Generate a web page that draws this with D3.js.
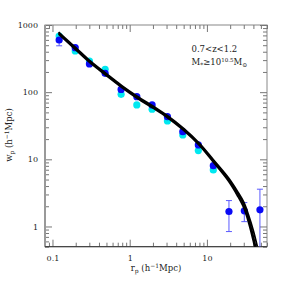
<!DOCTYPE html>
<html>
<head>
<meta charset="utf-8">
<script src="https://cdn.jsdelivr.net/npm/d3@7.9.0/dist/d3.min.js"></script>
<style>
  body { margin: 0; background: #fff; }
  text { font-family: "DejaVu Serif", serif; fill: #222; }
</style>
</head>
<body>
<svg id="chart" width="291" height="291"></svg>
<script>
// measured points (blue) and second sample (cyan)
const rp = [0.122, 0.197, 0.301, 0.481, 0.774, 1.236, 1.95, 3.08, 4.87, 7.74, 12.1, 19.3, 30.5, 48.6];
const wpBlue = [598, 459, 263, 191, 110, 85.7, 64.5, 43.2, 25.8, 16.4, 8.05, 1.67, 1.71, 1.77];
const errLo = [490, null, null, null, null, null, null, null, null, null, null, 0.84, 1.18, 0.4];
const errHi = [685, null, null, null, null, null, null, null, null, null, null, 2.43, 2.27, 3.59];
const rpCyan = [0.122, 0.197, 0.301, 0.481, 0.774, 1.236, 1.95, 3.08, 4.87, 7.74, 12.1];
const wpCyan = [685, 410, 291, 219, 93, 64.5, 55.7, 37.2, 23.1, 13.5, 6.95];

// model curves
const modelR = [0.12, 0.2, 0.3, 0.5, 0.8, 1.25, 2, 3, 5, 8, 12, 19, 25, 30, 35, 40, 45];
const modelA = [759, 444, 290, 182, 120, 84, 60, 44.3, 27.9, 16.7, 9.6, 5.05, 3.1, 2.1, 1.25, 0.7, 0.38];
const modelB = [730, 428, 280, 176, 116, 81, 58, 42.8, 27, 16.1, 9.2, 4.75, 2.85, 1.9, 1.1, 0.6, 0.32];
const modelC = [785, 460, 300, 188, 124, 87, 62, 45.8, 28.8, 17.3, 10, 5.3, 3.3, 2.3, 1.42, 0.86, 0.5];

const xMajor = [0.1, 1, 10];
const yMajor = [1, 10, 100, 1000];

const svg = d3.select("#chart");
const area = { left: 45, right: 267, top: 25, bottom: 246.7 };

const x = d3.scaleLog().domain([0.08, 60]).range([area.left, area.right]);
const y = d3.scaleLog().domain([0.5, 1000]).range([area.bottom, area.top]);

const minorOf = (scale) => {
  const [a, b] = scale.domain();
  const out = [];
  for (let e = Math.floor(Math.log10(a)); e <= Math.ceil(Math.log10(b)); e++) {
    for (let m = 2; m <= 9; m++) {
      const v = m * Math.pow(10, e);
      if (v >= a && v <= b) out.push(v);
    }
  }
  return out;
};

svg.append("clipPath").attr("id", "clip")
  .append("rect")
  .attr("x", area.left).attr("y", area.top)
  .attr("width", area.right - area.left)
  .attr("height", area.bottom - area.top);

// frame
svg.append("rect")
  .attr("x", area.left).attr("y", area.top)
  .attr("width", area.right - area.left)
  .attr("height", area.bottom - area.top)
  .attr("fill", "none")
  .attr("stroke", "#888")
  .attr("stroke-width", 1);

// ticks
const tickStyle = (g) => {
  g.select(".domain").remove();
  g.selectAll("line").attr("stroke", "#777");
};

svg.append("g").attr("transform", `translate(0,${area.bottom})`)
  .call(d3.axisBottom(x).tickValues(xMajor).tickSize(-7).tickPadding(9)
    .tickFormat(d3.format("~g")))
  .call(tickStyle)
  .call((g) => g.selectAll("text").attr("font-size", 8).attr("fill", "#222")
    .style("font-family", "DejaVu Serif"));
svg.append("g").attr("transform", `translate(0,${area.bottom})`)
  .call(d3.axisBottom(x).tickValues(minorOf(x)).tickSize(-4).tickFormat(""))
  .call(tickStyle);
svg.append("g").attr("transform", `translate(0,${area.top})`)
  .call(d3.axisTop(x).tickValues(xMajor).tickSize(-7).tickFormat(""))
  .call(tickStyle);
svg.append("g").attr("transform", `translate(0,${area.top})`)
  .call(d3.axisTop(x).tickValues(minorOf(x)).tickSize(-4).tickFormat(""))
  .call(tickStyle);

svg.append("g").attr("transform", `translate(${area.left},0)`)
  .call(d3.axisLeft(y).tickValues(yMajor).tickSize(-7).tickPadding(7)
    .tickFormat(d3.format("d")))
  .call(tickStyle)
  .call((g) => g.selectAll("text").attr("font-size", 8).attr("fill", "#222")
    .style("font-family", "DejaVu Serif"));
svg.append("g").attr("transform", `translate(${area.left},0)`)
  .call(d3.axisLeft(y).tickValues(minorOf(y)).tickSize(-4).tickFormat(""))
  .call(tickStyle);
svg.append("g").attr("transform", `translate(${area.right},0)`)
  .call(d3.axisRight(y).tickValues(yMajor).tickSize(-7).tickFormat(""))
  .call(tickStyle);
svg.append("g").attr("transform", `translate(${area.right},0)`)
  .call(d3.axisRight(y).tickValues(minorOf(y)).tickSize(-4).tickFormat(""))
  .call(tickStyle);

// left axis line is heavier and grey, bottom is dark
svg.append("line")
  .attr("x1", area.left).attr("x2", area.left)
  .attr("y1", area.top).attr("y2", area.bottom)
  .attr("stroke", "#999").attr("stroke-width", 2);
svg.append("line")
  .attr("x1", area.left).attr("x2", area.right)
  .attr("y1", area.bottom).attr("y2", area.bottom)
  .attr("stroke", "#333").attr("stroke-width", 1);

const plot = svg.append("g").attr("clip-path", "url(#clip)");

// error bars
const errData = rp.map((r, i) => ({ r, lo: errLo[i], hi: errHi[i] }))
  .filter((d) => d.lo !== null);
const eb = plot.append("g").attr("stroke", "#5a5aff").attr("stroke-width", 1);
eb.selectAll(".v").data(errData).join("line")
  .attr("x1", (d) => x(d.r)).attr("x2", (d) => x(d.r))
  .attr("y1", (d) => y(d.lo)).attr("y2", (d) => y(d.hi));
eb.selectAll(".cl").data(errData).join("line")
  .attr("x1", (d) => x(d.r) - 3).attr("x2", (d) => x(d.r) + 3)
  .attr("y1", (d) => y(d.lo)).attr("y2", (d) => y(d.lo));
eb.selectAll(".ch").data(errData).join("line")
  .attr("x1", (d) => x(d.r) - 3).attr("x2", (d) => x(d.r) + 3)
  .attr("y1", (d) => y(d.hi)).attr("y2", (d) => y(d.hi));

// points
plot.append("g").selectAll("circle")
  .data(rpCyan.map((r, i) => [r, wpCyan[i]]))
  .join("circle")
  .attr("cx", (d) => x(d[0])).attr("cy", (d) => y(d[1]))
  .attr("r", 3.6).attr("fill", "#00e8f0");

plot.append("g").selectAll("circle")
  .data(rp.map((r, i) => [r, wpBlue[i]]))
  .join("circle")
  .attr("cx", (d) => x(d[0])).attr("cy", (d) => y(d[1]))
  .attr("r", 3.6).attr("fill", "#0a0af5");

// model lines
const line = d3.line().x((d) => x(d[0])).y((d) => y(d[1]))
  .curve(d3.curveCatmullRom.alpha(0.5));
[modelB, modelC, modelA].forEach((m) => {
  plot.append("path")
    .datum(modelR.map((r, i) => [r, m[i]]))
    .attr("d", line)
    .attr("fill", "none")
    .attr("stroke", "#000")
    .attr("stroke-width", 1.8);
});

// annotation
const note = svg.append("g").attr("font-size", 8.5);
note.append("text").attr("x", 191.5).attr("y", 51.5).text("0.7<z<1.2");
const t2 = note.append("text").attr("x", 191.5).attr("y", 64.5);
t2.append("tspan").text("M");
t2.append("tspan").attr("font-size", 6).attr("dy", 2).text("*");
t2.append("tspan").attr("dy", -2).text("\u226510");
t2.append("tspan").attr("font-size", 5.5).attr("dy", -3).text("10.5");
t2.append("tspan").attr("dy", 3).text("M");
t2.append("tspan").attr("font-size", 6).attr("dy", 2).text("\u2299");

// axis labels
const xl = svg.append("text").attr("x", 156).attr("y", 271)
  .attr("text-anchor", "middle").attr("font-size", 8.5);
xl.append("tspan").text("r");
xl.append("tspan").attr("font-size", 6).attr("dy", 2).text("p");
xl.append("tspan").attr("dy", -2).text(" (h");
xl.append("tspan").attr("font-size", 6).attr("dy", -3).text("\u22121");
xl.append("tspan").attr("dy", 3).text("Mpc)");

const yl = svg.append("text")
  .attr("transform", "translate(12,135) rotate(-90)")
  .attr("text-anchor", "middle").attr("font-size", 8.5);
yl.append("tspan").text("w");
yl.append("tspan").attr("font-size", 6).attr("dy", 2).text("p");
yl.append("tspan").attr("dy", -2).text(" (h");
yl.append("tspan").attr("font-size", 6).attr("dy", -3).text("\u22121");
yl.append("tspan").attr("dy", 3).text("Mpc)");
</script>
</body>
</html>
